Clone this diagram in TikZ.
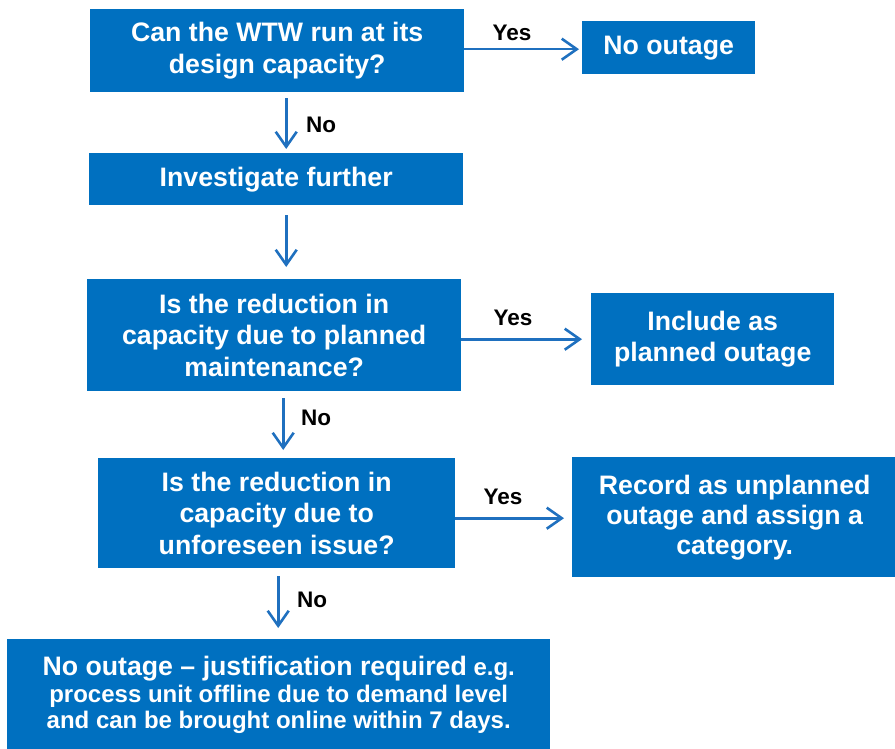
\documentclass[tikz,border=0pt]{standalone}
\usepackage{fontspec}
\setmainfont{Liberation Sans}
\usetikzlibrary{arrows.meta,calc}
\definecolor{boxblue}{HTML}{0070C0}
\definecolor{arrblue}{HTML}{1F70BF}
\begin{document}
\begin{tikzpicture}[x=1pt,y=-1pt,
  box/.style={fill=boxblue, draw=none, text=white, font=\bfseries\fontsize{26.7}{31.5}\selectfont,
    align=center, inner sep=0pt, anchor=north west},
  arr/.style={draw=arrblue, line width=2.6pt, -{Straight Barb[length=15pt,width=21pt,line width=2.6pt]}},
  lbl/.style={font=\bfseries\fontsize{22.5}{24}\selectfont, text=black, inner sep=0pt}]
\useasboundingbox (0,0) rectangle (895,749);

\node[box, minimum width=374pt, minimum height=83pt] (b1) at (90,9) {Can the WTW run at its\\design capacity?};
\node[box, minimum width=173pt, minimum height=53pt] (no1) at (582,21) {No outage};
\node[box, minimum width=374pt, minimum height=52pt] (inv) at (89,153) {Investigate further};
\node[box, minimum width=374pt, minimum height=112pt] (b3) at (87,279) {Is the reduction in\\capacity due to planned\\maintenance?};
\node[box, minimum width=243pt, minimum height=92pt] (inc) at (591,293) {Include as\\planned outage};
\node[box, minimum width=357pt, minimum height=110pt] (b4) at (98,458) {Is the reduction in\\capacity due to\\unforeseen issue?};
\node[box, minimum width=325pt, minimum height=120pt, font=\bfseries\fontsize{26.7}{30}\selectfont] (rec) at (572,457) {Record as unplanned\\outage and assign a\\category.};
\node[box, minimum width=543pt, minimum height=112pt, font=\bfseries\fontsize{24}{26.5}\selectfont] (b5) at (7,639)
  {{\fontsize{26.7}{26.5}\selectfont No outage -- justification required} e.g.\\process unit offline due to demand level\\and can be brought online within 7 days.};

% connectors
\draw[arr] ($(b1.south)+(9,6)$) -- ($(inv.north)+(10,-4)$);
\draw[arr] ($(inv.south)+(10,10)$) -- ($(b3.north)+(12,-12)$);
\draw[arr] ($(b3.south)+(9,7)$) -- ($(b4.north)+(6.5,-8)$);
\draw[arr] ($(b4.south)+(1.5,8)$) -- ($(b5.north)+(-0.5,-11)$);
\draw[arr] ($(b1.east)+(0,-1.5)$) -- ($(no1.west)+(-3,1.5)$);
\draw[arr] ($(b3.east)+(0,4)$) -- ($(inc.west)+(-9,0)$);
\draw[arr] ($(b4.east)+(0,5)$) -- ($(rec.west)+(-8,1)$);

% labels
\node[lbl] (y1) at (512,33) {Yes};
\node[lbl] (n1) at (321,125) {No};
\node[lbl] (y2) at (513,318) {Yes};
\node[lbl] (n2) at (316,418) {No};
\node[lbl] (y3) at (503,497) {Yes};
\node[lbl] (n3) at (312,600) {No};
\end{tikzpicture}
\end{document}
